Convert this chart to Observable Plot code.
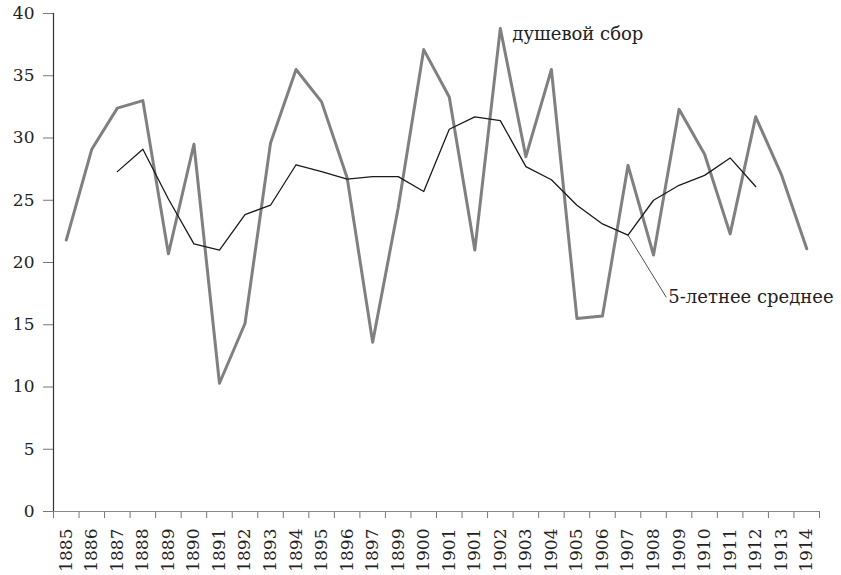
<!DOCTYPE html>
<html>
<head>
<meta charset="utf-8">
<script src="https://cdn.jsdelivr.net/npm/d3@7"></script>
<script src="https://cdn.jsdelivr.net/npm/@observablehq/plot@0.6"></script>
<style>
  html, body { margin: 0; padding: 0; background: #fff; }
  #chart svg { display: block; font-variant-numeric: oldstyle-nums; }
</style>
</head>
<body>
<div id="chart"></div>
<script>
const years = ["1885","1886","1887","1888","1889","1890","1891","1892","1893","1894",
  "1895","1896","1897","1899","1900","1901","1901","1902","1903","1904",
  "1905","1906","1907","1908","1909","1910","1911","1912","1913","1914"];
const harvest = [21.8, 29.1, 32.4, 33.0, 20.7, 29.5, 10.3, 15.1, 29.6, 35.5,
  32.9, 26.8, 13.6, 24.4, 37.1, 33.3, 21.0, 38.8, 28.5, 35.5,
  15.5, 15.7, 27.8, 20.6, 32.3, 28.7, 22.3, 31.7, 27.1, 21.1];
const average5 = [null, null, 27.3, 29.1, 25.1, 21.5, 21.0, 23.85, 24.6, 27.85,
  27.3, 26.7, 26.9, 26.9, 25.7, 30.7, 31.7, 31.4, 27.7, 26.65,
  24.6, 23.1, 22.2, 25.0, 26.2, 27.0, 28.4, 26.1, null, null];
const yTicks = [0, 5, 10, 15, 20, 25, 30, 35, 40];
const harvestLabel = "душевой сбор";
const averageLabel = "5-летнее среднее";
const averageLabelYear = "1907";

const idx = d3.range(years.length);
const harvestData = idx.map(i => ({i, v: harvest[i]}));
const avgData = idx.filter(i => average5[i] != null).map(i => ({i, v: average5[i]}));
const peak = harvestData.reduce((a, b) => (b.v > a.v ? b : a));
const avgAnchor = avgData.find(d => years[d.i] === averageLabelYear);

const FONT = "'DejaVu Serif', 'Liberation Serif', serif";

const chart = Plot.plot({
  width: 841,
  height: 575,
  marginLeft: 53,
  marginRight: 22,
  marginTop: 13,
  marginBottom: 64,
  style: {fontFamily: FONT, fontSize: "17px", color: "#222", background: "#fff"},
  x: {domain: [0, years.length], axis: null},
  y: {domain: [0, 40], axis: null},
  marks: [
    Plot.axisY({ticks: yTicks, tickSize: 10, tickPadding: 9, stroke: "#777", fill: "#222",
      fontSize: 17, label: null}),
    Plot.axisX({ticks: d3.range(years.length + 1), tickSize: 7, tickFormat: () => "",
      stroke: "#777", label: null}),
    Plot.text(idx, {x: i => i + 0.5, frameAnchor: "bottom", text: i => years[i], rotate: -90,
      textAnchor: "end", lineAnchor: "middle", dy: 17, fill: "#222", fontSize: 17}),
    Plot.ruleY([0], {stroke: "#888", strokeWidth: 1.2}),
    Plot.ruleX([0], {stroke: "#333", strokeWidth: 1.2}),
    Plot.line(harvestData, {x: d => d.i + 0.5, y: "v", stroke: "#808080", strokeWidth: 3}),
    Plot.line(avgData, {x: d => d.i + 0.5, y: "v", stroke: "#1a1a1a", strokeWidth: 1.3}),
    Plot.text([peak], {x: d => d.i + 0.5, y: "v", text: () => harvestLabel, textAnchor: "start",
      dx: 12, dy: 6, fill: "#222", fontSize: 18}),
    Plot.link([avgAnchor], {x1: d => d.i + 0.5, y1: "v", x2: d => d.i + 2.0, y2: d => d.v - 5.0,
      stroke: "#222", strokeWidth: 0.8}),
    Plot.text([avgAnchor], {x: d => d.i + 2.0, y: d => d.v - 5.0, text: () => averageLabel,
      textAnchor: "start", dx: 2, dy: 0, fill: "#222", fontSize: 18})
  ]
});
document.getElementById("chart").append(chart);
</script>
</body>
</html>
